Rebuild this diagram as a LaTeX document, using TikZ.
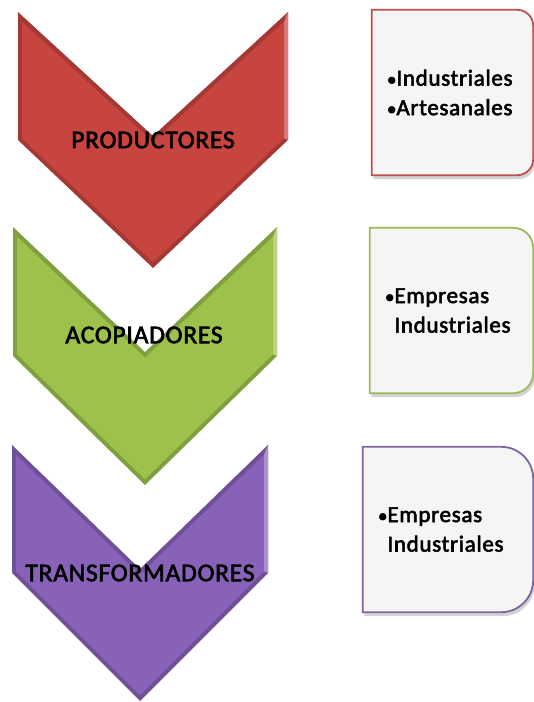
\documentclass[tikz,border=0pt]{standalone}
\usepackage{fontspec}
\setmainfont{Carlito}
\newfontfamily\calbold{Carlito}[FakeBold=2.5,LetterSpace=3]
\usetikzlibrary{backgrounds,shadows}
\definecolor{prodred}{RGB}{200,68,63}
\definecolor{acopgreen}{RGB}{156,194,76}
\definecolor{transviolet}{RGB}{136,98,184}
\definecolor{boxfill}{RGB}{245,245,245}
\definecolor{redline}{RGB}{192,80,77}
\definecolor{greenline}{RGB}{155,187,89}
\definecolor{violetline}{RGB}{128,100,162}
\newcommand{\smallbullet}{{\fontsize{19}{19}\selectfont\textbullet}}
% center x, top y, half width, side height, colour
\newcommand{\chevronshape}[5]{%
  \fill[#5!82!black] ({#1-#3},#2) -- (#1,{#2-#4+4}) -- ({#1+#3},#2) -- ({#1+#3},{#2-#4}) -- (#1,{#2-2*#4}) -- ({#1-#3},{#2-#4}) -- cycle;
  \fill[#5!70!white] ({#1+#3},#2) -- ({#1+#3},{#2-#4}) -- ({#1+#3-4},{#2-#4+1.7}) -- ({#1+#3-4},{#2-9.7}) -- cycle;
  \fill[#5] ({#1-#3+4},{#2-9.7}) -- (#1,{#2-#4+4-5.7}) -- ({#1+#3-4},{#2-9.7}) -- ({#1+#3-4},{#2-#4+1.7}) -- (#1,{#2-2*#4+5.7}) -- ({#1-#3+4},{#2-#4+1.7}) -- cycle;
}

\begin{document}
\begin{tikzpicture}[x=1pt,y=1pt,
    lbl/.style={font=\calbold\fontsize{25.5}{30}\selectfont},
    itembox/.style={minimum height=165pt, inner xsep=15pt, inner ysep=0pt, align=left,
      font=\calbold\fontsize{23}{29.5}\selectfont},
    boxline/.style={draw=#1, line width=1.8pt, fill=boxfill,
      drop shadow={shadow xshift=1.5pt, shadow yshift=-4pt, opacity=0.35}}]
  \useasboundingbox (0,0) rectangle (534,702);

  \chevronshape{153}{690}{135}{128}{prodred}
  \chevronshape{145}{475}{132}{129}{acopgreen}
  \chevronshape{140}{257}{128}{128}{transviolet}

  \node[lbl] (prodlbl) at (153,562) {PRODUCTORES};
  \node[lbl] (acoplbl) at (144,367) {ACOPIADORES};
  \node[lbl] (translbl) at (140,129) {TRANSFORMADORES};

  \node[itembox, text width=131pt] (prodbox) at (452.5,609.5)
    {\smallbullet Industriales\\\smallbullet Artesanales};
  \node[itembox, text width=133pt] (acopbox) at (451.5,391.5)
    {\smallbullet Empresas\\\phantom{\smallbullet}Industriales};
  \node[itembox, text width=140pt] (transbox) at (448,172.5)
    {\smallbullet Empresas\\\phantom{\smallbullet}Industriales};

  \begin{pgfonlayer}{background}
    \draw[boxline=redline] (prodbox.south west) -- (prodbox.north west)
      -- ([xshift=-16pt]prodbox.north east) arc[start angle=90,end angle=0,radius=16pt]
      -- ([yshift=16pt]prodbox.south east) arc[start angle=0,end angle=-90,radius=16pt] -- cycle;
    \draw[boxline=greenline] (acopbox.south west) -- (acopbox.north west)
      -- ([xshift=-20pt]acopbox.north east) arc[start angle=90,end angle=0,radius=20pt]
      -- ([yshift=20pt]acopbox.south east) arc[start angle=0,end angle=-90,radius=20pt] -- cycle;
    \draw[boxline=violetline] (transbox.south west) -- (transbox.north west)
      -- ([xshift=-32pt]transbox.north east) arc[start angle=90,end angle=0,radius=32pt]
      -- ([yshift=32pt]transbox.south east) arc[start angle=0,end angle=-90,radius=32pt] -- cycle;
  \end{pgfonlayer}
\end{tikzpicture}
\end{document}
